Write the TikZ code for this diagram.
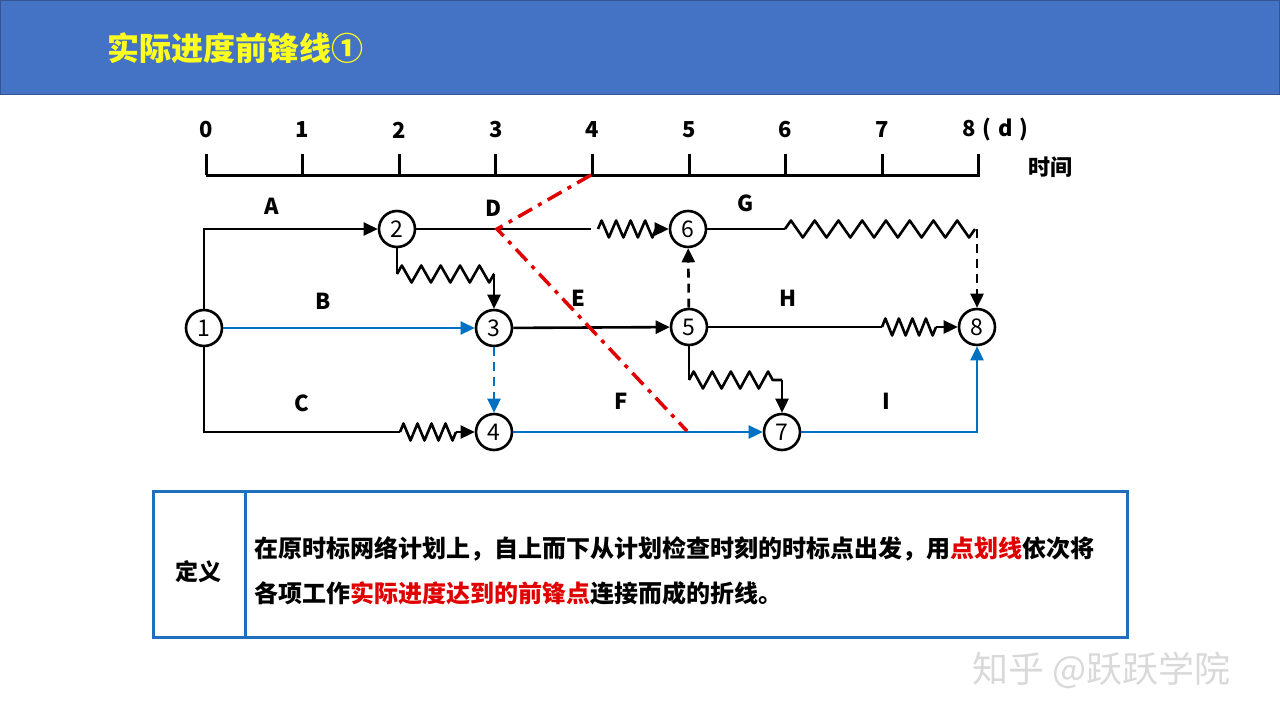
\documentclass[tikz,border=0pt]{standalone}
\usepackage{fontspec}
\setmainfont{Noto Sans CJK SC}
\usetikzlibrary{arrows.meta,decorations.pathmorphing}
\definecolor{hdr}{HTML}{4472C4}
\definecolor{ttl}{HTML}{FFFF1E}
\definecolor{bl}{HTML}{0070C0}
\definecolor{rd}{HTML}{E00000}
\definecolor{bx}{HTML}{1F70BC}
\begin{document}
\begin{tikzpicture}[x=1pt,y=-1pt,
  ev/.style={circle,draw,line width=2.6pt,minimum size=36pt,inner sep=0pt,fill=white,font=\fontsize{23}{23}\selectfont},
  ln/.style={line width=2.6pt},
  arr/.style={line width=2.6pt,-{Triangle[length=14pt,width=13pt]}},
  wave/.style={line width=2.6pt,line join=round,decorate,decoration={zigzag,segment length=#1,amplitude=8.5pt}},
  wave/.default=14pt,
  lbl/.style={font=\fontsize{22}{22}\selectfont\bfseries},
  dsh/.style={dash pattern=on 9pt off 6pt},
  front/.style={rd,line width=3.5pt,dash pattern=on 16pt off 7pt on 4pt off 7pt}
]
\useasboundingbox (0,0) rectangle (1280,720);
% header
\fill[hdr] (0,0) rectangle (1280,94);
\draw[hdr!75!black,line width=1pt] (0.5,0.5) rectangle (1279.5,94);
\node[anchor=west,text=ttl,font=\fontsize{32}{32}\selectfont\bfseries] (title) at (104,48) {实际进度前锋线①};

% time axis
\draw[line width=3pt] (206,175) -- (980,175);
\foreach \i in {0,...,8} {
  \pgfmathsetmacro\xx{206+96.6*\i}
  \draw[line width=3pt] (\xx,154) -- (\xx,175);
}
\foreach \i in {0,...,7} {
  \pgfmathsetmacro\xx{206+96.6*\i}
  \node[lbl] (t\i) at (\xx,130) {\i};
}
\node[lbl,anchor=west,inner sep=0pt] (t8) at (962,130) {8\hspace{7pt}(\hspace{7pt}d\hspace{7pt})};
\node[lbl] (timelbl) at (1050,167) {时间};

% events
\node[ev] (n1) at (204,328) {1};
\node[ev] (n2) at (397,229) {2};
\node[ev] (n3) at (494,328) {3};
\node[ev] (n4) at (494,432) {4};
\node[ev] (n5) at (689,327) {5};
\node[ev] (n6) at (688,229) {6};
\node[ev] (n7) at (782,432) {7};
\node[ev] (n8) at (977,327) {8};

% coordinates
\coordinate (d1) at (591,229);
\coordinate (d2) at (598,229);
\coordinate (d3) at (656,229);
\coordinate (w1) at (397,274);
\coordinate (w2) at (494,274);
\coordinate (c1) at (400,432);
\coordinate (c2) at (456,432);
\coordinate (g1) at (785,229);
\coordinate (g2) at (975,229);
\coordinate (g3) at (977,229);
\coordinate (h1) at (882,327);
\coordinate (h2) at (936,327);
\coordinate (k1) at (689,380);
\coordinate (k2) at (782,380);

% A
\draw[arr] (n1) |- (n2);
% D
\draw[ln] (n2) -- (d1);
\draw[wave=14.5pt] (d2) -- (d3);
\draw[arr] (d3) -- (n6);
% 2 -> 3
\draw[ln] (n2) -- (w1);
\draw[wave=19.4pt] (w1) -- (w2);
\draw[arr] (w2) -- (n3);
% B
\draw[arr,bl] (n1) -- (n3);
% C
\draw[ln] (n1) |- (c1);
\draw[wave=14pt] (c1) -- (c2);
\draw[arr] (c2) -- (n4);
% 3 -> 4
\draw[arr,bl,dsh] (n3) -- (n4);
% E
\draw[arr] (n3) -- (n5);
% F
\draw[arr,bl] (n4) -- (n7);
% 5 -> 6
\draw[arr,dsh] (n5) -- (n6);
% G
\draw[ln] (n6) -- (g1);
\draw[wave=23.75pt] (g1) -- (g2);
\draw[arr,dsh] (g3) -- (n8);
% H
\draw[ln] (n5) -- (h1);
\draw[wave=13.5pt] (h1) -- (h2);
\draw[arr] (h2) -- (n8);
% 5 -> 7
\draw[ln] (n5) -- (k1);
\draw[wave=18.6pt] (k1) -- (k2);
\draw[arr] (k2) -- (n7);
% I
\draw[arr,bl] (n7) -| (n8);

% labels
\node[lbl] (la) at (272,206) {A};
\node[lbl] (ld) at (494,208) {D};
\node[lbl] (lg) at (746,203) {G};
\node[lbl] (lb) at (323,301) {B};
\node[lbl] (le) at (578,298) {E};
\node[lbl] (lh) at (788,298) {H};
\node[lbl] (lc) at (302,403) {C};
\node[lbl] (lf) at (621,401) {F};
\node[lbl] (li) at (886,401) {I};

% front line
\coordinate (r1) at (591,175);
\coordinate (r2) at (497,229);
\coordinate (r3) at (687,431);
\draw[front] (r1) -- (r2) -- (r3);

% definition box
\draw[bx,line width=3pt] (153,491) rectangle (1127,637);
\draw[bx,line width=3pt] (245,491) -- (245,637);
\node[font=\fontsize{23}{23}\selectfont\bfseries] (defl) at (198,572) {定义};
\node[anchor=west,inner sep=0pt,font=\fontsize{24}{24}\selectfont\bfseries] (def1) at (254,549) {在原时标网络计划上，自上而下从计划检查时刻的时标点出发，用\textcolor{rd}{点划线}依次将};
\node[anchor=west,inner sep=0pt,font=\fontsize{24}{24}\selectfont\bfseries] (def2) at (254,593) {各项工作\textcolor{rd}{实际进度达到的前锋点}连接而成的折线。};

% watermark
\node[anchor=west,inner sep=0pt,text=gray!30,font=\fontsize{36}{36}\selectfont] (wm) at (972,670) {知乎 @跃跃学院};
\end{tikzpicture}
\end{document}
